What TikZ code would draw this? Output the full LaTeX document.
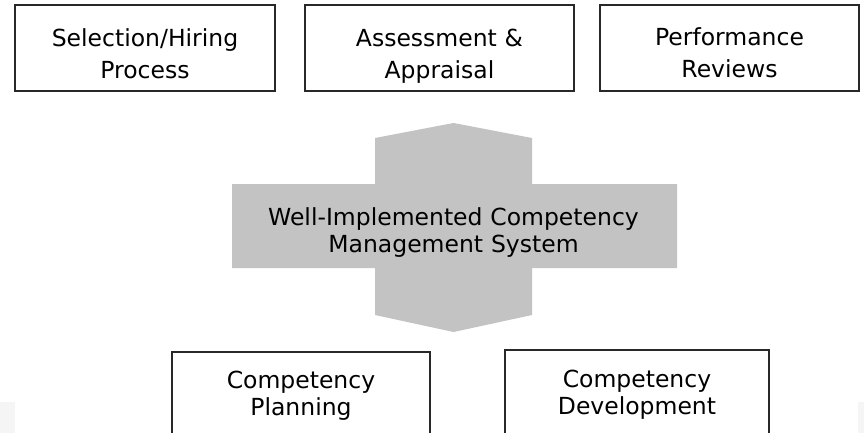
\documentclass[tikz,border=0pt]{standalone}
\usepackage{fontspec}
\setmainfont{DejaVu Sans}
\definecolor{hexgray}{RGB}{195,195,195}
\definecolor{edgegray}{RGB}{40,40,40}
\definecolor{cornergray}{RGB}{245,245,245}
\begin{document}
\begin{tikzpicture}[x=1pt,y=-1pt,
  box/.style={draw=edgegray, line width=1.6pt, fill=white, inner sep=0pt, rectangle},
  lbl/.style={text width=440pt, align=center, anchor=base, inner sep=0pt},
  big/.style={font=\fontsize{23.5}{32}\selectfont},
  small/.style={font=\fontsize{23.5}{27}\selectfont}]
\useasboundingbox (0,0) rectangle (864,433);
\clip (0,0) rectangle (864,433);
\fill[white] (0,0) rectangle (864,433);
\fill[cornergray] (0,402) rectangle (15,433);
\fill[cornergray] (858,402) rectangle (864,433);
% top boxes
\node[box, minimum width=260, minimum height=86] (sel) at (145,48) {};
\node[box, minimum width=269, minimum height=86] (ass) at (439.5,48) {};
\node[box, minimum width=259, minimum height=86] (perf) at (729.5,48) {};
\node[lbl, big] (selT) at (145,46.5) {Selection/Hiring\\Process};
\node[lbl, big] (assT) at (439.5,46.5) {Assessment \&\\Appraisal};
\node[lbl, big] (perfT) at (729.5,45.5) {Performance\\Reviews};
% central shape
\fill[hexgray] (375,138) -- (453.5,123) -- (532,138) -- (532,184) -- (677,184)
  -- (677,268) -- (532,268) -- (532,315) -- (453.5,332) -- (375,315)
  -- (375,268) -- (232,268) -- (232,184) -- (375,184) -- cycle;
\node[lbl, small] (wcT) at (453.5,225) {Well-Implemented Competency\\Management System};
% bottom boxes
\node[box, minimum width=258, minimum height=98] (plan) at (301,401) {};
\node[box, minimum width=264, minimum height=100] (dev) at (637,400) {};
\node[lbl, small] (planT) at (301,388) {Competency\\Planning};
\node[lbl, small] (devT) at (637,387) {Competency\\Development};
\end{tikzpicture}
\end{document}
